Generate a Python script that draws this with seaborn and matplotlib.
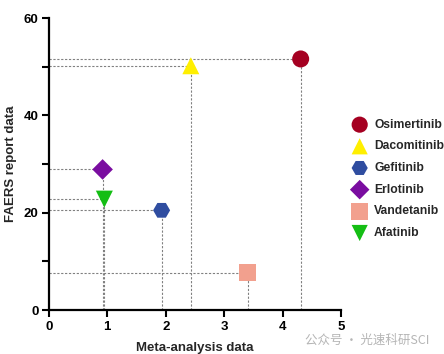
import pandas as pd
import numpy as np
import seaborn as sns
import matplotlib.pyplot as plt

drugs = ["Osimertinib", "Dacomitinib", "Gefitinib", "Erlotinib", "Vandetanib", "Afatinib"]
meta = [4.31, 2.43, 1.93, 0.92, 3.40, 0.95]
faers = [51.6, 50.2, 20.5, 28.9, 7.7, 22.8]
colors = ["#A50021", "#FFEF00", "#2F4DA0", "#7A0DA0", "#F2A08E", "#14BE14"]
markers = ["o", "^", "H", "D", "s", "v"]
sizes = [150, 150, 150, 110, 160, 150]

df = pd.DataFrame({"drug": drugs, "meta": meta, "faers": faers})

sns.set_style("ticks")
plt.rcParams['font.family'] = ['Liberation Sans', 'DejaVu Sans']

fig = plt.figure(figsize=(4.44, 3.54), dpi=100)
ax = fig.add_axes([0.110, 0.124, 0.658, 0.825])

# dotted guide lines from the axes to each point
for x, y in zip(meta, faers):
    ax.plot([0, x], [y, y], ls=(0, (2, 1.5)), color="#808080", lw=0.8, zorder=1)
    ax.plot([x, x], [0, y], ls=(0, (2, 1.5)), color="#808080", lw=0.8, zorder=1)

for d, c, m, s in zip(drugs, colors, markers, sizes):
    sub = df[df["drug"] == d]
    sns.scatterplot(data=sub, x="meta", y="faers", color=c, marker=m, s=s,
                    edgecolor="none", label=d, ax=ax, zorder=3, clip_on=False)

ax.set_xlim(0, 5)
ax.set_ylim(0, 60)
ax.set_xticks([0, 1, 2, 3, 4, 5])
ax.set_yticks([0, 20, 40, 60])
ax.set_yticks([10, 30, 50], minor=True)
ax.tick_params(axis="both", which="major", width=1.5, length=5, labelsize=9.5,
               colors="black", pad=2.5)
ax.tick_params(axis="y", which="minor", width=1.5, length=5, colors="black")
for lab in ax.get_xticklabels() + ax.get_yticklabels():
    lab.set_fontweight("bold")
for sp in ["left", "bottom"]:
    ax.spines[sp].set_linewidth(1.6)
    ax.spines[sp].set_color("black")
sns.despine(ax=ax)
ax.set_xlabel("Meta-analysis data", fontsize=9.5, fontweight="bold", labelpad=7)
ax.set_ylabel("FAERS report data", fontsize=9.5, fontweight="bold", labelpad=5)

leg = ax.legend(loc="upper left", bbox_to_anchor=(0.772, 0.678),
                bbox_transform=fig.transFigure, frameon=False,
                prop={"weight": "bold", "size": 8.7}, handletextpad=0.2,
                labelspacing=0.8, markerscale=0.95, borderaxespad=0)

fig.text(0.688, 0.040, "公众号 · 光速科研SCI", color="#b5b5b5", fontsize=9,
         va="center", family=["Noto Sans CJK SC", "DejaVu Sans"])

fig.savefig("out.png", dpi=100)
